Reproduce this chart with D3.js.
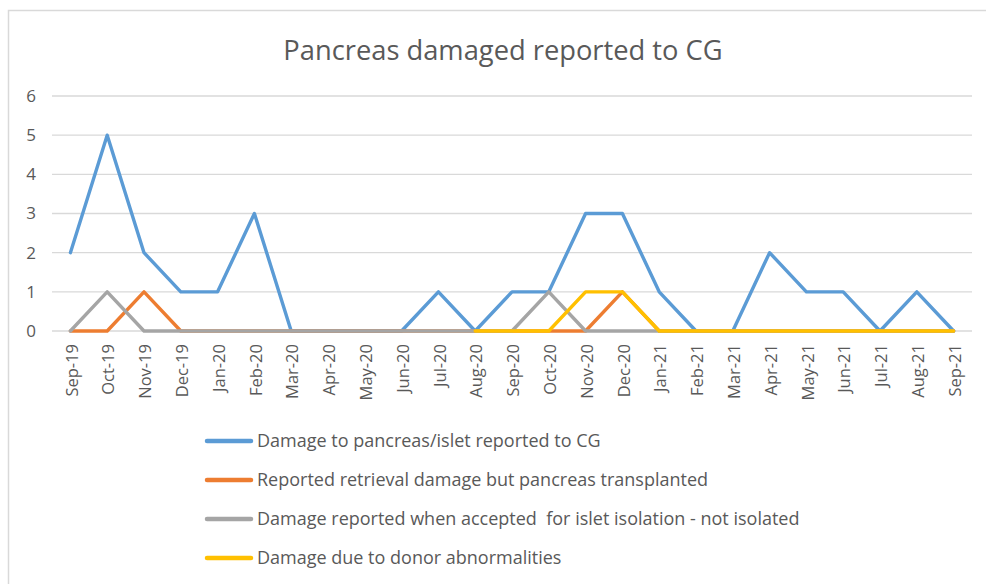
<!DOCTYPE html>
<html>
<head>
<meta charset="utf-8">
<script src="https://cdn.jsdelivr.net/npm/d3@7"></script>
<style>
  html, body { margin: 0; padding: 0; background: #fff; }
  svg { display: block; }
  text { font-family: "Open Sans", "Noto Sans", sans-serif; fill: #595959; white-space: pre; }
</style>
</head>
<body>
<svg id="chart" width="986" height="584"></svg>
<script>
const months = ["Sep-19","Oct-19","Nov-19","Dec-19","Jan-20","Feb-20","Mar-20","Apr-20","May-20","Jun-20","Jul-20","Aug-20","Sep-20","Oct-20","Nov-20","Dec-20","Jan-21","Feb-21","Mar-21","Apr-21","May-21","Jun-21","Jul-21","Aug-21","Sep-21"];
const damageReported   = [2,5,2,1,1,3,0,0,0,0,1,0,1,1,3,3,1,0,0,2,1,1,0,1,0];
const retrievalDamage  = [0,0,1,0,0,0,0,0,0,0,0,0,0,0,0,1,0,0,0,0,0,0,0,0,0];
const isletNotIsolated = [0,1,0,0,0,0,0,0,0,0,0,0,0,1,0,0,0,0,0,0,0,0,0,0,0];
const donorAbnormal    = [null,null,null,null,null,null,null,null,null,null,null,0,0,0,1,1,0,0,0,0,0,0,0,0,0];
const yTicks = [0,1,2,3,4,5,6];
const seriesNames = ["Damage to pancreas/islet reported to CG","Reported retrieval damage but pancreas transplanted","Damage reported when accepted  for islet isolation - not isolated","Damage due to donor abnormalities"];
const seriesColors = ["#5B9BD5","#ED7D31","#A5A5A5","#FFC000"];
const seriesValues = [damageReported, retrievalDamage, isletNotIsolated, donorAbnormal];

const svg = d3.select("#chart");

// chart border
svg.append("rect").attr("x", 8.5).attr("y", 10.5).attr("width", 990).attr("height", 600)
  .attr("fill", "none").attr("stroke", "#D9D9D9").attr("stroke-width", 1.5);

const plot = {left: 52, right: 972, top: 96, bottom: 331};

const x = d3.scalePoint().domain(months).range([plot.left, plot.right]).padding(0.5);
const y = d3.scaleLinear().domain([0, 6]).range([plot.bottom, plot.top]);

// title
svg.append("text").attr("x", 503).attr("y", 60).attr("text-anchor", "middle")
  .style("font-size", "27.3px").text("Pancreas damaged reported to CG");

// gridlines
svg.append("g").selectAll("line").data(yTicks).join("line")
  .attr("x1", plot.left).attr("x2", plot.right)
  .attr("y1", d => y(d)).attr("y2", d => y(d))
  .attr("stroke", "#D9D9D9").attr("stroke-width", 1.3);

// y axis labels
const yAxis = d3.axisLeft(y).tickValues(yTicks).tickSize(0).tickPadding(0).tickFormat(d3.format("d"));
const yg = svg.append("g").attr("transform", `translate(${plot.left - 16},0)`).call(yAxis);
yg.select(".domain").remove();
yg.selectAll("text").style("font-size", "17px").attr("fill", "#595959").style("font-family", null);

// x axis labels
const xAxis = d3.axisBottom(x).tickSize(0).tickPadding(0);
const xg = svg.append("g").attr("transform", `translate(0,${plot.bottom})`).call(xAxis);
xg.select(".domain").remove();
xg.selectAll("text")
  .style("font-size", "16.5px").attr("fill", "#595959").style("font-family", null)
  .attr("text-anchor", "end")
  .attr("transform", "translate(1,13) rotate(-90)")
  .attr("x", 0).attr("y", 0).attr("dy", "0.35em");

// lines
const line = d3.line()
  .defined(d => d.v !== null)
  .x(d => x(d.m)).y(d => y(d.v));

seriesValues.forEach((vals, i) => {
  svg.append("path")
    .datum(months.map((m, j) => ({m, v: vals[j]})))
    .attr("d", line)
    .attr("fill", "none")
    .attr("stroke", seriesColors[i])
    .attr("stroke-width", 3.4)
    .attr("stroke-linejoin", "round")
    .attr("stroke-linecap", "round");
});

// legend
const lg = svg.append("g");
seriesNames.forEach((name, i) => {
  const yy = 441 + i * 39;
  lg.append("line").attr("x1", 207).attr("x2", 251).attr("y1", yy).attr("y2", yy)
    .attr("stroke", seriesColors[i]).attr("stroke-width", 4.5).attr("stroke-linecap", "round");
  lg.append("text").attr("x", 257).attr("y", yy).attr("dy", "0.35em")
    .style("font-size", "18px").text(name);
});
</script>
</body>
</html>
